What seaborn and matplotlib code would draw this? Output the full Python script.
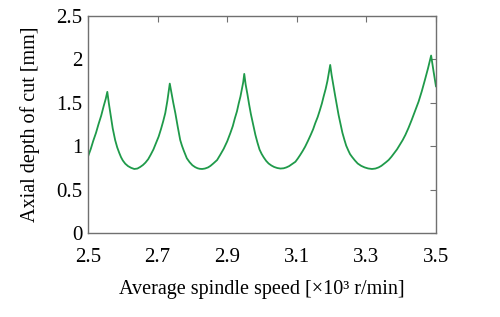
import matplotlib
matplotlib.use('Agg')
import pandas as pd
import matplotlib.pyplot as plt
import seaborn as sns

# Stability lobes (speed in 10^3 r/min, depth in mm)
speed = [2.500, 2.508, 2.515, 2.523, 2.530, 2.538, 2.545, 2.551, 2.5555,
         2.560, 2.565, 2.571, 2.578, 2.584, 2.590, 2.595, 2.600, 2.607, 2.615, 2.624, 2.633,
         2.642, 2.650, 2.658, 2.665, 2.673, 2.680, 2.688, 2.695, 2.703, 2.710, 2.716, 2.722,
         2.728, 2.735,
         2.740, 2.745, 2.751, 2.758, 2.765, 2.770, 2.775, 2.780, 2.784, 2.792, 2.800, 2.808,
         2.815, 2.821, 2.828, 2.836, 2.845, 2.852, 2.860, 2.871, 2.880, 2.890, 2.900, 2.909,
         2.916, 2.922, 2.928, 2.933, 2.938, 2.942, 2.946, 2.949,
         2.953, 2.958, 2.963, 2.968, 2.975, 2.981, 2.987, 2.993, 2.999, 3.005, 3.012, 3.019,
         3.027, 3.035, 3.044, 3.053, 3.062, 3.070, 3.078, 3.085, 3.096, 3.103, 3.110, 3.117,
         3.124, 3.132, 3.140, 3.147, 3.153, 3.160, 3.166, 3.172, 3.177, 3.183, 3.188, 3.192,
         3.196,
         3.200, 3.205, 3.210, 3.215, 3.220, 3.226, 3.231, 3.237, 3.242, 3.248, 3.253, 3.259,
         3.267, 3.275, 3.285, 3.295, 3.305, 3.316, 3.326, 3.335, 3.343, 3.350, 3.357, 3.364,
         3.372, 3.380, 3.388, 3.395, 3.404, 3.412, 3.421, 3.430, 3.440, 3.450, 3.459, 3.468,
         3.477, 3.486, 3.493, 3.500]
depth = [0.880, 0.968, 1.060, 1.153, 1.250, 1.352, 1.460, 1.545, 1.625,
         1.490, 1.360, 1.205, 1.070, 0.985, 0.920, 0.872, 0.835, 0.798, 0.770, 0.750, 0.737,
         0.742, 0.760, 0.783, 0.810, 0.850, 0.900, 0.962, 1.030, 1.110, 1.200, 1.285, 1.380,
         1.520, 1.720,
         1.610, 1.500, 1.380, 1.220, 1.070, 1.005, 0.950, 0.900, 0.860, 0.815, 0.780, 0.758,
         0.745, 0.739, 0.737, 0.742, 0.755, 0.773, 0.800, 0.840, 0.900, 0.970, 1.055, 1.150,
         1.230, 1.320, 1.400, 1.490, 1.570, 1.650, 1.735, 1.832,
         1.710, 1.600, 1.480, 1.370, 1.240, 1.130, 1.040, 0.960, 0.910, 0.870, 0.830, 0.800,
         0.777, 0.760, 0.748, 0.742, 0.745, 0.755, 0.770, 0.790, 0.820, 0.858, 0.900, 0.945,
         0.994, 1.060, 1.130, 1.195, 1.264, 1.335, 1.410, 1.490, 1.570, 1.660, 1.750, 1.840,
         1.935,
         1.820, 1.700, 1.585, 1.470, 1.360, 1.250, 1.155, 1.070, 1.005, 0.950, 0.908, 0.875,
         0.835, 0.800, 0.773, 0.755, 0.743, 0.737, 0.742, 0.755, 0.773, 0.795, 0.817, 0.841,
         0.878, 0.920, 0.963, 1.010, 1.068, 1.129, 1.210, 1.300, 1.405, 1.513, 1.630, 1.760,
         1.895, 2.043, 1.860, 1.686]

x_ticks = [2.5, 2.7, 2.9, 3.1, 3.3, 3.5]
y_ticks = [0, 0.5, 1, 1.5, 2, 2.5]
y_tick_labels = ['0', '0.5', '1', '1.5', '2', '2.5']

df = pd.DataFrame({'speed': speed, 'depth': depth})

sns.set_theme(style='white')
plt.rcParams['font.family'] = ['Liberation Serif', 'DejaVu Serif']

fig = plt.figure(figsize=(5, 3.17), dpi=100)
ax = fig.add_axes([0.176, 0.265, 0.696, 0.685])
sns.lineplot(data=df, x='speed', y='depth', ax=ax, color='#1f9a4a', lw=1.3,
             estimator=None, sort=False)

ax.set_xlim(2.5, 3.5)
ax.set_ylim(0, 2.5)
ax.set_xticks(x_ticks)
ax.set_xticklabels([f'{t:.1f}' for t in x_ticks])
ax.set_yticks(y_ticks)
ax.set_yticklabels(y_tick_labels)
ax.tick_params(direction='in', length=4, width=0.8, color='#707070',
               top=True, right=True, labelsize=15, labelcolor='black')
ax.tick_params(axis='x', pad=11)
ax.tick_params(axis='y', pad=4)
for s in ax.spines.values():
    s.set_color('#707070')
    s.set_linewidth(1.0)

ax.set_xlabel('Average spindle speed [×10³ r/min]', fontsize=14.5, color='black', labelpad=9)
ax.set_ylabel('Axial depth of cut [mm]', fontsize=14.5, color='black', labelpad=12)

fig.savefig('out.png', dpi=100)
